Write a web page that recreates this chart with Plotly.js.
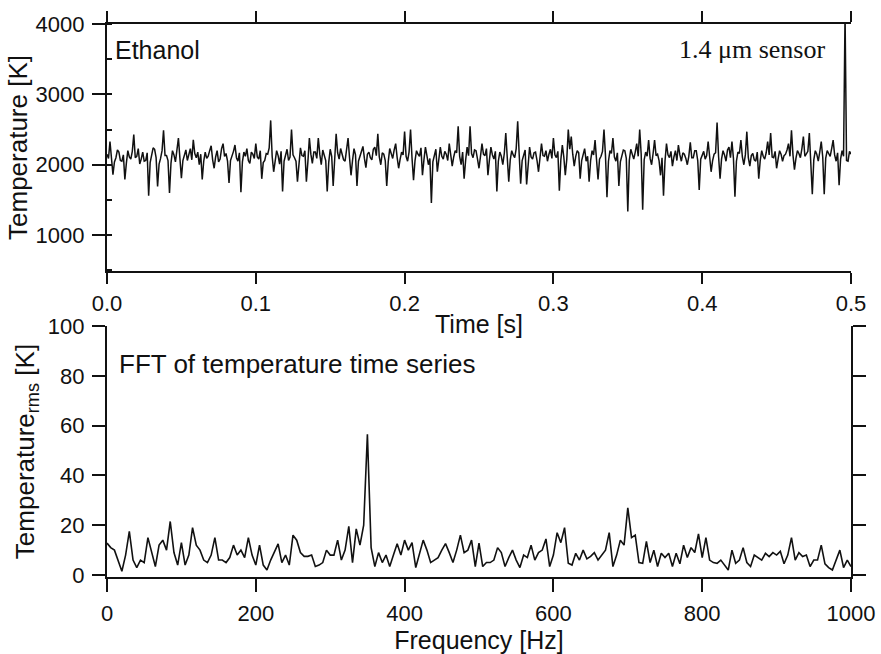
<!DOCTYPE html>
<html>
<head>
<meta charset="utf-8">
<script src="https://cdn.plot.ly/plotly-3.0.1.min.js"></script>
<style>html,body{margin:0;padding:0;background:#fff;}#chart{width:881px;height:654px;}</style>
</head>
<body>
<div id="chart"></div>
<script>
// ---- Data ----
// Time series sampled every 1 ms from 0 to 0.5 s
const timeStep = 0.001;
const temperatureK = [
  2150, 2090, 2330, 2120, 1860, 2040, 2100, 2210, 2180, 2060,
  2050, 2140, 1790, 2020, 2200, 2110, 2080, 2190, 2430, 2100,
  2120, 2230, 2010, 2080, 2180, 2050, 2060, 2170, 1560, 2030,
  2150, 2240, 2220, 2100, 1690, 2010, 2090, 2200, 2490, 2130,
  2130, 2060, 1600, 2020, 2200, 2140, 2040, 2250, 2380, 2090,
  1810, 2060, 2150, 2210, 2060, 2130, 2230, 2070, 2355, 2160,
  2100, 2180, 2000, 2150, 1790, 2050, 2180, 2090, 2120, 2200,
  2270, 2070, 1950, 2110, 2200, 2040, 2080, 2230, 2300, 2120,
  2160, 2050, 1740, 2060, 2120, 2190, 2280, 2100, 2050, 2170,
  1610, 2040, 2180, 2120, 2230, 2060, 2020, 2180, 2150, 2090,
  2300, 2110, 2080, 2200, 1800, 2030, 2060, 2160, 2150, 2240,
  2630, 2120, 1900, 2070, 2200, 2130, 2010, 2190, 1620, 2050,
  2150, 2220, 2060, 2110, 2500, 2140, 2100, 2050, 1760, 2080,
  2240, 2130, 2120, 2200, 1760, 2040, 2380, 2150, 2020, 2180,
  2180, 2090, 2380, 2150, 2000, 2210, 2140, 2060, 1620, 2030,
  2220, 2120, 1700, 2080, 2440, 2170, 2080, 2230, 2160, 2070,
  2050, 2190, 2380, 2100, 1850, 2060, 2230, 2140, 1700, 2050,
  2120, 2200, 2260, 2090, 1960, 2150, 2180, 2100, 2070, 2220,
  2250, 2130, 2440, 2110, 2000, 2170, 2150, 2060, 1700, 2040,
  2230, 2160, 2090, 2210, 2300, 2100, 1950, 2080, 2180, 2140,
  2470, 2120, 2050, 2180, 2500, 2090, 1780, 2060, 2200, 2150,
  2120, 2240, 1850, 2070, 2250, 2130, 2000, 2090, 1455, 2040,
  2160, 2220, 1900, 2080, 2250, 2120, 2080, 2190, 2150, 2060,
  2300, 2140, 1980, 2110, 2200, 2170, 2545, 2120, 2000, 2180,
  1800, 2060, 2250, 2130, 2545, 2160, 2100, 2210, 2200, 2080,
  1950, 2120, 2300, 2150, 2130, 2230, 1850, 2070, 2250, 2140,
  2080, 2190, 1620, 2050, 2180, 2120, 2000, 2160, 2450, 2100,
  1760, 2070, 2200, 2140, 2100, 2230, 2616, 2150, 1730, 2060,
  2150, 2210, 1720, 2040, 2250, 2110, 2080, 2170, 2180, 2060,
  1900, 2100, 2300, 2130, 2120, 2200, 2050, 2150, 2220, 2090,
  2380, 2140, 2100, 2190, 1630, 2070, 2280, 2110, 1850, 2080,
  2500, 2220, 2400, 2150, 1980, 2120, 2200, 2170, 1800, 2060,
  2150, 2230, 2050, 2120, 1760, 2060, 2200, 2140, 2350, 2100,
  1790, 2080, 2120, 2190, 2500, 2130, 1540, 2050, 2200, 2160,
  2380, 2110, 2050, 2170, 1700, 2040, 2150, 2210, 2200, 2090,
  1336, 2060, 2220, 2140, 2080, 2180, 2300, 2120, 2500, 2150,
  1360, 2070, 2180, 2120, 2350, 2090, 2000, 2160, 2350, 2130,
  2150, 2060, 1850, 2100, 1560, 2050, 2300, 2140, 2100, 2190,
  1980, 2110, 2200, 2060, 2280, 2140, 2050, 2170, 2150, 2090,
  2000, 2120, 2320, 2100, 2100, 2200, 2200, 2060, 1640, 2080,
  2150, 2190, 2080, 2130, 2330, 2110, 1900, 2060, 2150, 2170,
  2600, 2120, 1800, 2080, 2200, 2140, 2050, 2210, 2250, 2100,
  2330, 2090, 1545, 2050, 2180, 2160, 2350, 2110, 2000, 2140,
  2470, 2100, 1980, 2130, 2160, 2070, 2050, 2180, 1800, 2060,
  2200, 2120, 2080, 2170, 2330, 2140, 2450, 2110, 2100, 2190,
  1950, 2080, 2200, 2150, 2050, 2130, 2150, 2210, 2300, 2120,
  2490, 2140, 1930, 2090, 2200, 2160, 2100, 2230, 2400, 2120,
  2150, 2190, 2450, 2100, 1580, 2070, 2200, 2150, 2050, 2180,
  2330, 2110, 1580, 2090, 2200, 2160, 2120, 2230, 2350, 2140,
  2050, 2170, 1710, 2080, 2200, 2120, 4150, 2060, 2050, 2190,
  2150
];

// FFT amplitude sampled every 5 Hz from 0 to 1000 Hz
const freqStep = 5;
const tempRms = [
  12.8, 11, 10, 6, 1.5, 8, 17.5, 6, 3, 6,
  5, 15, 9, 3.4, 12, 14, 10, 21.5, 9, 4,
  13, 4, 8, 19, 12, 10, 6, 5, 8, 15,
  6, 6, 5, 7, 12, 8, 10, 7, 15, 8,
  4, 12, 4, 2, 6, 9, 12.5, 5, 8, 4,
  16, 14, 9, 7.5, 7.5, 8, 3.4, 4, 5, 10,
  8, 8, 14, 6, 10, 19.5, 5, 18.5, 12, 20,
  56.5, 11, 3.4, 9, 5, 8, 3.4, 8, 12.6, 8,
  14, 10, 13, 3, 8, 14, 10, 5, 6, 7,
  10, 12.6, 9, 5, 10, 16, 9, 10, 14, 3.4,
  12.8, 3.4, 5, 5, 6, 11, 9, 3.4, 7, 10,
  6, 3, 8, 7, 12, 6, 9, 10, 14.5, 3.4,
  8, 17, 13, 19, 4.7, 4, 8.7, 6, 10, 6.5,
  7.5, 9, 6, 8, 10, 17, 3.4, 8, 14, 12,
  27, 15, 16, 5, 4.7, 13.5, 5, 10, 3.4, 8.7,
  7, 8.7, 3.4, 8.7, 4.5, 12, 7, 11, 9, 16.5,
  7, 15, 6, 5, 4.7, 6, 4, 2, 10, 4.7,
  6, 11, 5, 3.4, 8, 7, 6, 8.7, 7.4, 9,
  8, 9.5, 4.5, 8, 15, 6, 9, 7.4, 8, 3.4,
  6, 6, 12, 4.5, 3, 2, 6, 10, 3, 6,
  3.4
];

const timeTicks = [0, 0.1, 0.2, 0.3, 0.4, 0.5];
const timeTickLabels = ['0.0', '0.1', '0.2', '0.3', '0.4', '0.5'];
const freqTicks = [0, 200, 400, 600, 800, 1000];
const tempTicks = [1000, 2000, 3000, 4000];
const rmsTicks = [0, 20, 40, 60, 80, 100];
const labels = {
  topY: 'Temperature [K]',
  topX: 'Time [s]',
  botY: 'Temperature<sub>rms</sub> [K]',
  botX: 'Frequency [Hz]',
  fuel: 'Ethanol',
  sensor: '1.4 \u03BCm sensor',
  fft: 'FFT of temperature time series'
};

// ---- Build ----
const timeS = temperatureK.map((_, i) => +(i * timeStep).toFixed(4));
const freqHz = tempRms.map((_, i) => i * freqStep);

const FONT = '"Liberation Sans", Arial, Helvetica, sans-serif';
const black = '#111';

const traces = [
  {x: timeS, y: temperatureK, xaxis: 'x', yaxis: 'y', type: 'scatter', mode: 'lines',
   line: {color: black, width: 1.5}, hoverinfo: 'skip'},
  {x: freqHz, y: tempRms, xaxis: 'x2', yaxis: 'y2', type: 'scatter', mode: 'lines',
   line: {color: black, width: 1.6}, hoverinfo: 'skip'}
];

const axBase = {
  showline: true, linecolor: black, linewidth: 2.2,
  ticks: 'outside', ticklen: 13, tickwidth: 2, tickcolor: black,
  showgrid: false, zeroline: false,
  tickfont: {family: FONT, size: 22, color: black}
};

const topFrac = (577 - 271) / 553;
const botFrac = (577 - 326) / 553;

const layout = {
  width: 881, height: 654,
  margin: {l: 106.5, r: 30, t: 24, b: 77},
  paper_bgcolor: '#fff', plot_bgcolor: '#fff',
  showlegend: false,
  font: {family: FONT, color: black},
  xaxis: Object.assign({}, axBase, {
    domain: [0, 1], anchor: 'y', range: [0, 0.5], ticklen: 11,
    tickvals: timeTicks, ticktext: timeTickLabels, mirror: 'ticks',
    ticklabelstandoff: 0,
    title: {text: labels.topX, font: {family: FONT, size: 25, color: black}, standoff: 1}
  }),
  yaxis: Object.assign({}, axBase, {
    domain: [topFrac, 1], anchor: 'x', range: [490, 4000],
    tickvals: tempTicks,
    minor: {dtick: 500, tick0: 0, ticks: 'inside', ticklen: 5, tickwidth: 2, tickcolor: black, showgrid: false},
    ticklabelstandoff: 3,
    title: {text: labels.topY, font: {family: FONT, size: 26, color: black}, standoff: 0}
  }),
  yaxis3: Object.assign({}, axBase, {
    overlaying: 'y', side: 'right', anchor: 'x', range: [490, 4000],
    dtick: 500, tick0: 0, showticklabels: false
  }),
  xaxis2: Object.assign({}, axBase, {
    domain: [0, 1], anchor: 'y2', range: [0, 1000],
    tickvals: freqTicks, ticklabelstandoff: 2,
    title: {text: labels.botX, font: {family: FONT, size: 25, color: black}, standoff: 1}
  }),
  yaxis2: Object.assign({}, axBase, {
    domain: [0, botFrac], anchor: 'x2', range: [-0.8, 100],
    tickvals: rmsTicks, mirror: 'ticks',
    ticklabelstandoff: 3,
    title: {text: labels.botY, font: {family: FONT, size: 26, color: black}, standoff: 6}
  }),
  annotations: [
    {text: labels.fuel, xref: 'paper', yref: 'paper', x: 0.0087, y: (577 - 50) / 553,
     xanchor: 'left', yanchor: 'middle', showarrow: false,
     font: {family: FONT, size: 25, color: black}},
    {text: labels.sensor, xref: 'paper', yref: 'paper', x: 0.968, y: (577 - 50) / 553,
     xanchor: 'right', yanchor: 'middle', showarrow: false,
     font: {family: '"Liberation Serif", "Times New Roman", serif', size: 26, color: black}},
    {text: labels.fft, xref: 'paper', yref: 'paper', x: 0.0137, y: (577 - 364) / 553,
     xanchor: 'left', yanchor: 'middle', showarrow: false,
     font: {family: FONT, size: 26, color: black}}
  ]
};

Plotly.newPlot('chart', traces, layout, {staticPlot: true, displayModeBar: false});
</script>
</body>
</html>
